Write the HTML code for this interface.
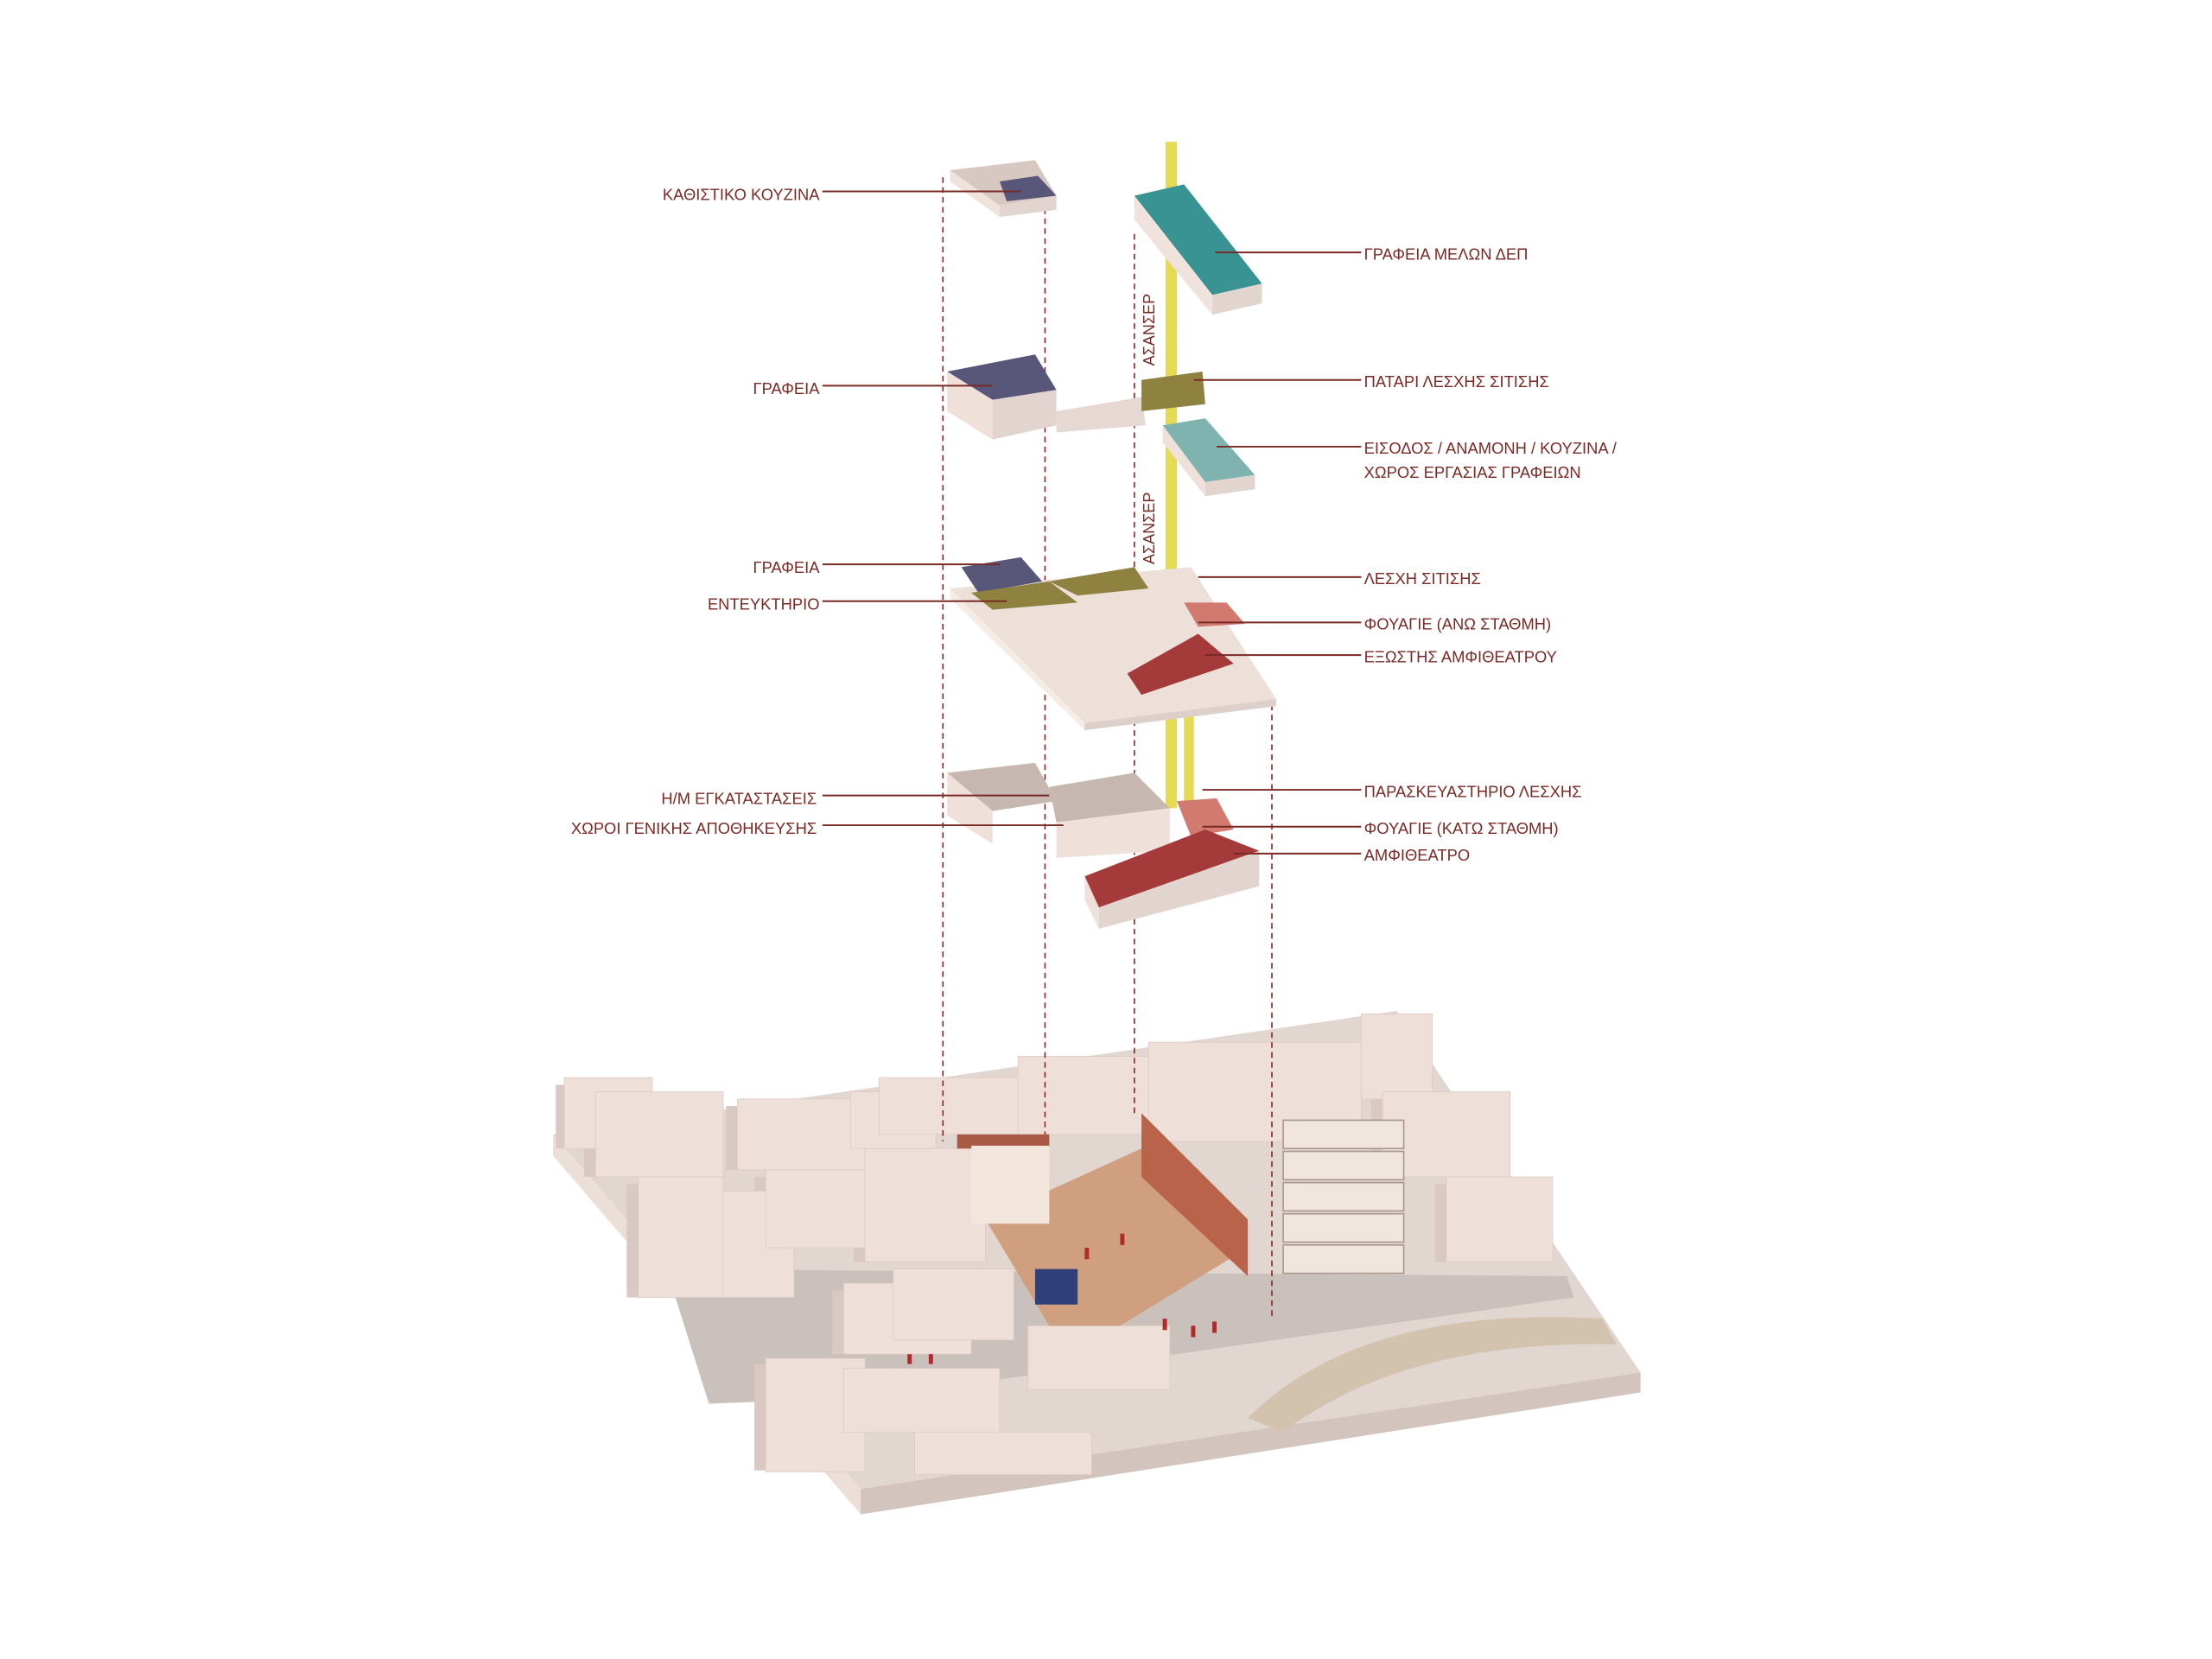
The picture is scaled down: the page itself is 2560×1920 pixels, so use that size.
<!DOCTYPE html>
<html><head><meta charset="utf-8"><style>
html,body{margin:0;padding:0;background:#fff;}
svg{display:block;}
text{font-family:"Liberation Sans","DejaVu Sans",sans-serif;font-size:11.2px;fill:#7a2a25;}
</style></head><body>
<svg width="2560" height="1920" viewBox="0 0 1560 1170" xmlns="http://www.w3.org/2000/svg">
<rect width="1560" height="1170" fill="#fff"/>
<!-- base plate -->
<polygon points="390,800 985,713 1157,968 607,1050" fill="#e2d6d0"/>
<polygon points="390,800 607,1050 607,1068 390,815" fill="#ecdfd8"/>
<polygon points="607,1050 1157,968 1157,982 607,1068" fill="#d3c4bd"/>
<!-- streets -->
<polygon points="470,895 1105,900 1110,915 620,985 500,990" fill="#cbc1bc"/>
<path d="M880,1000 Q960,920 1130,930 L1140,948 Q990,945 905,1010 Z" fill="#d2c2ae"/>
<!-- city blocks: side faces -->
<g fill="#d9c9c2">
<rect x="392" y="765" width="8" height="45"/><rect x="412" y="775" width="8" height="55"/>
<rect x="442" y="835" width="8" height="80"/><rect x="512" y="780" width="8" height="45"/>
<rect x="532" y="830" width="8" height="50"/><rect x="602" y="815" width="8" height="75"/>
<rect x="587" y="910" width="8" height="45"/><rect x="532" y="962" width="8" height="75"/>
<rect x="1012" y="835" width="8" height="55"/><rect x="967" y="775" width="8" height="55"/>
</g>
<g fill="#eee0d9" stroke="#dccbc3" stroke-width="0.5">
<rect x="398" y="760" width="62" height="50"/><rect x="420" y="770" width="90" height="60"/>
<rect x="450" y="830" width="60" height="85"/><rect x="510" y="840" width="50" height="75"/>
<rect x="540" y="825" width="75" height="55"/><rect x="520" y="775" width="100" height="50"/>
<rect x="600" y="770" width="60" height="40"/><rect x="620" y="760" width="100" height="40"/>
<rect x="718" y="745" width="112" height="55"/><rect x="810" y="735" width="150" height="70"/>
<rect x="960" y="715" width="50" height="60"/><rect x="975" y="770" width="90" height="60"/>
<rect x="1020" y="830" width="75" height="60"/><rect x="610" y="810" width="85" height="80"/>
<rect x="595" y="905" width="90" height="50"/><rect x="630" y="895" width="85" height="50"/>
<rect x="540" y="958" width="70" height="80"/><rect x="595" y="965" width="110" height="45"/>
<rect x="725" y="935" width="100" height="45"/><rect x="645" y="1010" width="125" height="30"/>
</g>
<!-- tall building with balconies -->
<g fill="#f0e5df" stroke="#a89890" stroke-width="1">
<rect x="905" y="790" width="85" height="20"/><rect x="905" y="812" width="85" height="20"/>
<rect x="905" y="834" width="85" height="20"/><rect x="905" y="856" width="85" height="20"/>
<rect x="905" y="878" width="85" height="20"/>
</g>
<!-- main project site -->
<polygon points="695,860 805,810 880,880 790,935 740,935" fill="#cf9f80"/>
<polygon points="805,785 880,860 880,900 805,830" fill="#b9644a"/>
<rect x="675" y="800" width="65" height="10" fill="#a85a44"/>
<rect x="685" y="808" width="55" height="55" fill="#f2e6dd"/>
<rect x="730" y="895" width="30" height="25" fill="#2f3f7a"/>
<g fill="#b02a2a"><rect x="765" y="880" width="3" height="8"/><rect x="790" y="870" width="3" height="8"/><rect x="820" y="930" width="3" height="8"/><rect x="840" y="935" width="3" height="8"/><rect x="855" y="932" width="3" height="8"/><rect x="640" y="955" width="3" height="7"/><rect x="655" y="955" width="3" height="7"/></g>
<!-- dashed verticals -->
<g stroke="#8a2a25" stroke-width="1" stroke-dasharray="4,3">
<line x1="665" y1="125" x2="665" y2="805"/><line x1="737" y1="140" x2="737" y2="800"/>
<line x1="800" y1="165" x2="800" y2="785"/><line x1="897" y1="490" x2="897" y2="930"/>
</g>
<!-- yellow elevator -->
<rect x="822" y="100" width="8" height="470" fill="#e5da55"/>
<rect x="835" y="505" width="7" height="65" fill="#e5da55"/>
<!-- top block -->
<polygon points="670,120 730,113 745,138 705,145" fill="#d8c8c2"/>
<polygon points="705,128 732,124 745,138 710,142" fill="#58577a"/>
<polygon points="670,120 705,145 705,153 670,128" fill="#f0e2dc"/>
<polygon points="705,145 745,138 745,148 705,153" fill="#e2d4ce"/>
<!-- ΓΡΑΦΕΙΑ ΜΕΛΩΝ slab -->
<polygon points="800,138 835,130 890,200 855,208" fill="#3a9393"/>
<polygon points="800,138 855,208 855,222 800,155" fill="#f0e2dc"/>
<polygon points="855,208 890,200 890,214 855,222" fill="#e2d4ce"/>
<!-- level 2 -->
<polygon points="668,262 730,250 745,275 700,282" fill="#58577a"/>
<polygon points="668,262 700,282 700,310 668,290" fill="#efe1da"/>
<polygon points="700,282 745,275 745,300 700,310" fill="#e2d4ce"/>
<polygon points="745,290 805,280 808,300 745,305" fill="#e6d8d2"/>
<polygon points="805,268 848,262 850,285 805,290" fill="#8f8240"/>
<polygon points="820,300 850,295 885,335 850,340" fill="#7fb3b0"/>
<polygon points="820,300 850,340 850,350 820,312" fill="#efe1da"/>
<polygon points="850,340 885,335 885,345 850,350" fill="#e2d4ce"/>
<!-- level 3 -->
<polygon points="670,415 840,400 900,493 765,510" fill="#ece0d9"/>
<polygon points="670,415 765,510 765,515 670,422" fill="#f6ece6"/>
<polygon points="765,510 900,493 900,498 765,515" fill="#ddd0ca"/>
<polygon points="678,400 720,393 735,410 690,418" fill="#58577a"/>
<polygon points="685,418 740,410 760,425 700,430" fill="#8f8240"/>
<polygon points="740,410 800,400 810,415 760,420" fill="#8f8240"/>
<polygon points="835,425 865,425 878,440 845,442" fill="#d27a70"/>
<polygon points="795,475 845,447 870,468 805,490" fill="#a53a3a"/>
<!-- level 4 -->
<polygon points="668,545 730,538 745,565 700,572" fill="#c7b7b1"/>
<polygon points="668,545 700,572 700,595 668,575" fill="#efe1da"/>
<polygon points="740,555 800,545 825,570 745,580" fill="#c7b7b1"/>
<polygon points="745,580 825,570 825,600 745,605" fill="#efe1da"/>
<polygon points="830,565 858,563 870,585 840,590" fill="#d27a70"/>
<polygon points="765,618 850,585 888,600 775,640" fill="#a53a3a"/>
<polygon points="765,618 775,640 775,655 765,635" fill="#efe1da"/>
<polygon points="775,640 888,600 888,625 775,655" fill="#e2d4ce"/>
<!-- leader lines -->
<g stroke="#7a2a25" stroke-width="1.2">
<line x1="580" y1="135" x2="720" y2="135"/><line x1="580" y1="272" x2="700" y2="272"/>
<line x1="580" y1="398" x2="705" y2="398"/><line x1="580" y1="424" x2="710" y2="424"/>
<line x1="580" y1="561" x2="740" y2="561"/><line x1="580" y1="582" x2="750" y2="582"/>
<line x1="857" y1="178" x2="960" y2="178"/><line x1="842" y1="268" x2="960" y2="268"/>
<line x1="858" y1="315" x2="960" y2="315"/><line x1="845" y1="407" x2="960" y2="407"/>
<line x1="845" y1="439" x2="960" y2="439"/><line x1="850" y1="462" x2="960" y2="462"/>
<line x1="848" y1="557" x2="960" y2="557"/><line x1="848" y1="583" x2="960" y2="583"/>
<line x1="870" y1="602" x2="960" y2="602"/>
</g>
<g text-anchor="end">
<text x="578" y="141">ΚΑΘΙΣΤΙΚΟ ΚΟΥΖΙΝΑ</text>
<text x="578" y="278">ΓΡΑΦΕΙΑ</text>
<text x="578" y="404">ΓΡΑΦΕΙΑ</text>
<text x="578" y="430">ΕΝΤΕΥΚΤΗΡΙΟ</text>
<text x="576" y="567">Η/Μ ΕΓΚΑΤΑΣΤΑΣΕΙΣ</text>
<text x="576" y="588">ΧΩΡΟΙ ΓΕΝΙΚΗΣ ΑΠΟΘΗΚΕΥΣΗΣ</text>
</g>
<g>
<text x="962" y="183">ΓΡΑΦΕΙΑ ΜΕΛΩΝ ΔΕΠ</text>
<text x="962" y="273">ΠΑΤΑΡΙ ΛΕΣΧΗΣ ΣΙΤΙΣΗΣ</text>
<text x="962" y="320">ΕΙΣΟΔΟΣ / ΑΝΑΜΟΝΗ / ΚΟΥΖΙΝΑ /</text>
<text x="962" y="337">ΧΩΡΟΣ ΕΡΓΑΣΙΑΣ ΓΡΑΦΕΙΩΝ</text>
<text x="962" y="412">ΛΕΣΧΗ ΣΙΤΙΣΗΣ</text>
<text x="962" y="444">ΦΟΥΑΓΙΕ (ΑΝΩ ΣΤΑΘΜΗ)</text>
<text x="962" y="467">ΕΞΩΣΤΗΣ ΑΜΦΙΘΕΑΤΡΟΥ</text>
<text x="962" y="562">ΠΑΡΑΣΚΕΥΑΣΤΗΡΙΟ ΛΕΣΧΗΣ</text>
<text x="962" y="588">ΦΟΥΑΓΙΕ (ΚΑΤΩ ΣΤΑΘΜΗ)</text>
<text x="962" y="607">ΑΜΦΙΘΕΑΤΡΟ</text>
</g>
<text transform="translate(814,258) rotate(-90)" style="font-size:11px">ΑΣΑΝΣΕΡ</text>
<text transform="translate(814,398) rotate(-90)" style="font-size:11px">ΑΣΑΝΣΕΡ</text>
</svg>
</body></html>
